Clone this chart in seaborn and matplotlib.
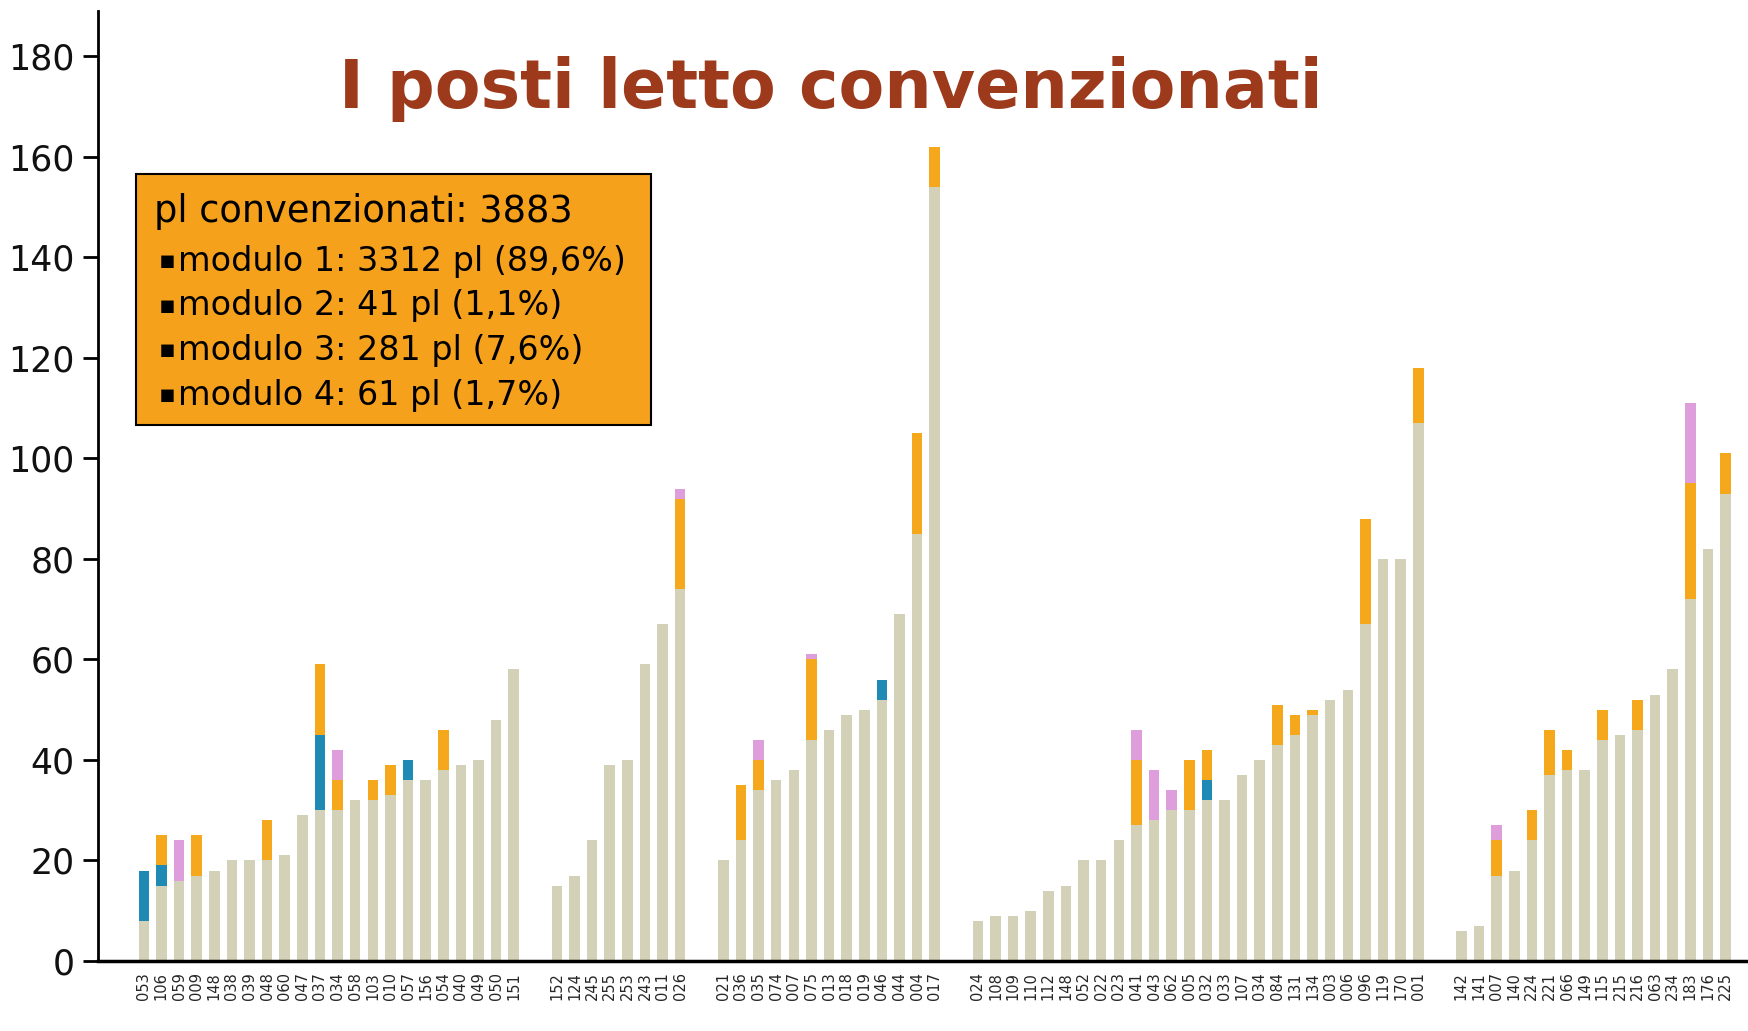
import numpy as np
import pandas as pd
import matplotlib
matplotlib.use("Agg")
import matplotlib.pyplot as plt
import matplotlib.patches as mpatches
import seaborn as sns

# ---------------- data ----------------
labels = [
    # group 1
    "053", "106", "059", "009", "148", "038", "039", "048", "060", "047", "037",
    "034", "058", "103", "010", "057", "156", "054", "040", "049", "050", "151",
    # group 2
    "152", "124", "245", "255", "253", "243", "011", "026",
    # group 3
    "021", "036", "035", "074", "007", "075", "013", "018", "019", "046", "044",
    "004", "017",
    # group 4
    "024", "108", "109", "110", "112", "148", "052", "022", "023", "041", "043",
    "062", "005", "032", "033", "107", "034", "084", "131", "134", "003", "006",
    "096", "119", "170", "001",
    # group 5
    "142", "141", "007", "140", "224", "221", "066", "149", "115", "215", "216",
    "063", "234", "183", "176", "225",
]
group_sizes = [22, 8, 13, 26, 16]

modulo1 = [
    8, 15, 16, 17, 18, 20, 20, 20, 21, 29, 30, 30, 32, 32, 33, 36, 36, 38, 39, 40, 48, 58,
    15, 17, 24, 39, 40, 59, 67, 74,
    20, 24, 34, 36, 38, 44, 46, 49, 50, 52, 69, 85, 154,
    8, 9, 9, 10, 14, 15, 20, 20, 24, 27, 28, 30, 30, 32, 32, 37, 40, 43, 45, 49, 52, 54,
    67, 80, 80, 107,
    6, 7, 17, 18, 24, 37, 38, 38, 44, 45, 46, 53, 58, 72, 82, 93,
]
modulo2 = [
    10, 4, 0, 0, 0, 0, 0, 0, 0, 0, 15, 0, 0, 0, 0, 4, 0, 0, 0, 0, 0, 0,
    0, 0, 0, 0, 0, 0, 0, 0,
    0, 0, 0, 0, 0, 0, 0, 0, 0, 4, 0, 0, 0,
    0, 0, 0, 0, 0, 0, 0, 0, 0, 0, 0, 0, 0, 4, 0, 0, 0, 0, 0, 0, 0, 0, 0, 0, 0, 0,
    0, 0, 0, 0, 0, 0, 0, 0, 0, 0, 0, 0, 0, 0, 0, 0,
]
modulo3 = [
    0, 6, 0, 8, 0, 0, 0, 8, 0, 0, 14, 6, 0, 4, 6, 0, 0, 8, 0, 0, 0, 0,
    0, 0, 0, 0, 0, 0, 0, 18,
    0, 11, 6, 0, 0, 16, 0, 0, 0, 0, 0, 20, 8,
    0, 0, 0, 0, 0, 0, 0, 0, 0, 13, 0, 0, 10, 6, 0, 0, 0, 8, 4, 1, 0, 0, 21, 0, 0, 11,
    0, 0, 7, 0, 6, 9, 4, 0, 6, 0, 6, 0, 0, 23, 0, 8,
]
modulo4 = [
    0, 0, 8, 0, 0, 0, 0, 0, 0, 0, 0, 6, 0, 0, 0, 0, 0, 0, 0, 0, 0, 0,
    0, 0, 0, 0, 0, 0, 0, 2,
    0, 0, 4, 0, 0, 1, 0, 0, 0, 0, 0, 0, 0,
    0, 0, 0, 0, 0, 0, 0, 0, 0, 6, 10, 4, 0, 0, 0, 0, 0, 0, 0, 0, 0, 0, 0, 0, 0, 0,
    0, 0, 3, 0, 0, 0, 0, 0, 0, 0, 0, 0, 0, 16, 0, 0,
]

title = "I posti letto convenzionati"
box_title = "pl convenzionati: 3883"
box_lines = [
    "modulo 1: 3312 pl (89,6%)",
    "modulo 2: 41 pl (1,1%)",
    "modulo 3: 281 pl (7,6%)",
    "modulo 4: 61 pl (1,7%)",
]

# ---------------- layout / styles ----------------
C_BASE = "#d3d1b7"
C_BLUE = "#1f8ab3"
C_ORANGE = "#f6a81c"
C_PINK = "#dd9edb"
C_BOX = "#f5a11b"
C_TITLE = "#9c3a1b"
GROUP_GAP = 1.45

# bar positions with a gap between groups
pos = []
idx = 0
for g, n in enumerate(group_sizes):
    for k in range(n):
        pos.append(idx + g * GROUP_GAP)
        idx += 1
pos = np.array(pos)

df = pd.DataFrame({
    "pos": pos,
    "label": labels,
    "m1": modulo1, "m2": modulo2, "m3": modulo3, "m4": modulo4,
})
df["t1"] = df["m1"]
df["t2"] = df["t1"] + df["m2"]
df["t3"] = df["t2"] + df["m3"]
df["t4"] = df["t3"] + df["m4"]

sns.set_theme(style="white")
plt.rcParams["font.family"] = ["DejaVu Sans"]

W, H = 1748, 1031
fig = plt.figure(figsize=(W / 100, H / 100), dpi=100)
fig.patch.set_facecolor("white")
ax = fig.add_axes([98 / W, 1 - 961 / H, 1 - 98 / W, (961 - 11) / H])

for col, c in [("t4", C_PINK), ("t3", C_ORANGE), ("t2", C_BLUE), ("t1", C_BASE)]:
    sns.barplot(data=df, x="pos", y=col, native_scale=True, orient="x",
                color=c, width=0.6, errorbar=None, linewidth=0,
                saturation=1, ax=ax)

ax.set_xlim(pos[0] - 2.6, pos[-1] + 1.27)
ax.set_ylim(0, 189)
ax.set_yticks(np.arange(0, 181, 20))
ax.set_xticks(pos)
ax.set_xticklabels(labels, rotation=90, fontsize=10.5)
ax.set_xlabel("")
ax.set_ylabel("")
ax.tick_params(axis="x", length=0, pad=8)
ax.tick_params(axis="y", direction="out", length=11, width=2, labelsize=25,
               pad=6, color="black", left=True, labelcolor="#111111")
for s in ["top", "right"]:
    ax.spines[s].set_visible(False)
ax.spines["left"].set_linewidth(2)
ax.spines["left"].set_color("black")
ax.spines["bottom"].set_linewidth(2.5)
ax.spines["bottom"].set_color("black")
ax.set_facecolor("white")

# title
fig.text(831 / W, 1 - 89 / H, title, ha="center", va="center",
         fontsize=48, fontweight="bold", color=C_TITLE)

# info box
bx0, bx1, by0, by1 = 136, 651, 174, 425
fig.patches.append(mpatches.Rectangle((bx0 / W, 1 - by1 / H), (bx1 - bx0) / W,
                                      (by1 - by0) / H, transform=fig.transFigure,
                                      facecolor=C_BOX, edgecolor="black",
                                      linewidth=1.5, zorder=5))
fig.text(154 / W, 1 - 212 / H, box_title, ha="left", va="center",
         fontsize=26.5, color="black", zorder=6)
for i, line in enumerate(box_lines):
    y = 261 + i * 44.7
    fig.text(159 / W, 1 - y / H, "\u25aa", ha="left", va="center",
             fontsize=18, color="black", zorder=6)
    fig.text(178 / W, 1 - y / H, line, ha="left", va="center",
             fontsize=24, color="black", zorder=6)

fig.savefig("out.png", dpi=100)
